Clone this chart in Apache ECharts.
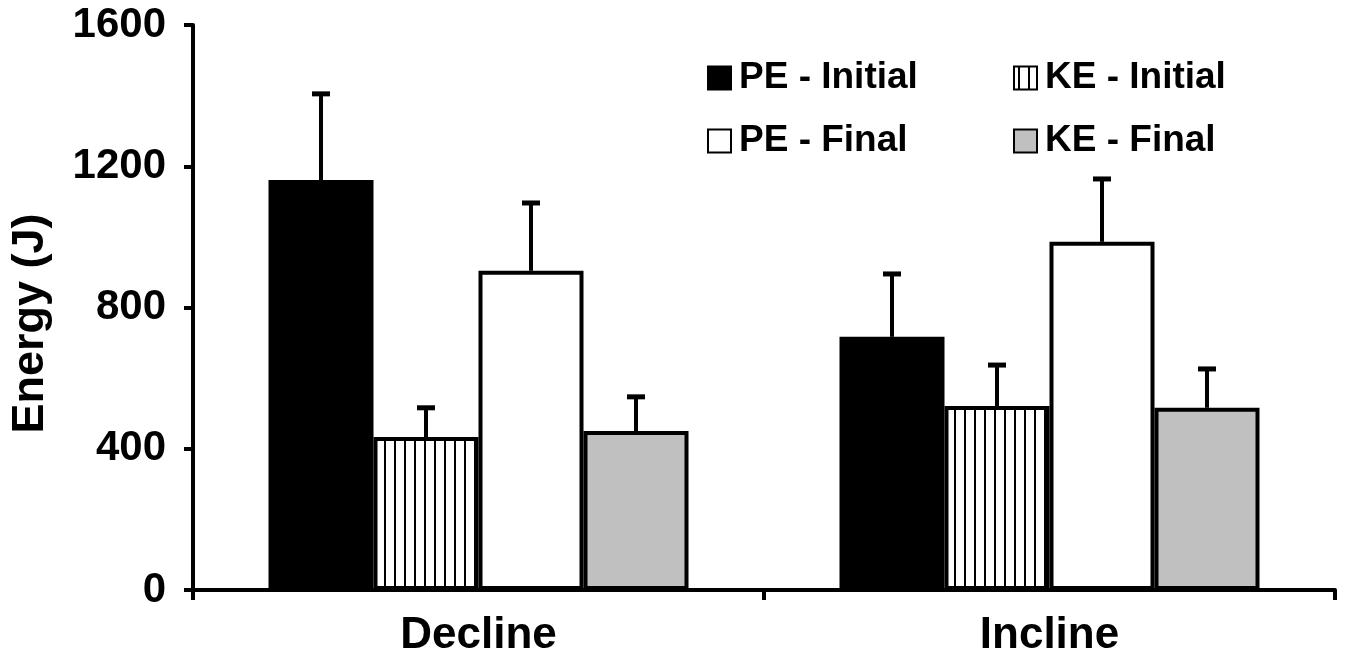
<!DOCTYPE html>
<html>
<head>
<meta charset="utf-8">
<script src="https://cdn.jsdelivr.net/npm/echarts@6/dist/echarts.min.js"></script>
<style>
html,body{margin:0;padding:0;background:#fff;}
#chart{width:1347px;height:663px;}
</style>
</head>
<body>
<div id="chart"></div>
<script>
// ---- data ----
const categories = ['Decline', 'Incline'];
const seriesNames = ['PE - Initial', 'KE - Initial', 'PE - Final', 'KE - Final'];
const peInitial = [1161, 717];
const keInitial = [433, 521];
const peFinal = [904, 986];
const keFinal = [450, 516];
const peInitialSD = [244, 178];
const keInitialSD = [83, 116];
const peFinalSD = [192, 178];
const keFinalSD = [97, 110];
const yTicks = [0, 400, 800, 1200, 1600];

// ---- styling helpers ----
const FONT = 'Liberation Sans, Arial, sans-serif';
const BAR_W = 105;

const hatch = document.createElement('canvas');
hatch.width = 10; hatch.height = 10;
(function () {
  const c = hatch.getContext('2d');
  c.fillStyle = '#fff'; c.fillRect(0, 0, 10, 10);
  c.fillStyle = '#000'; c.fillRect(4, 0, 2, 10);
})();

const values = [peInitial, keInitial, peFinal, keFinal];
const sds = [peInitialSD, keInitialSD, peFinalSD, keFinalSD];
const fills = ['#000000', { image: hatch, repeat: 'repeat' }, '#ffffff', '#c0c0c0'];

const barSeries = seriesNames.map((name, k) => ({
  name: name,
  type: 'bar',
  barWidth: BAR_W,
  barGap: '0%',
  data: values[k],
  itemStyle: { color: fills[k], borderColor: '#000', borderWidth: 4 },
  emphasis: { disabled: true }
}));

const errData = [];
values.forEach((arr, k) => arr.forEach((v, i) => errData.push([i, v, sds[k][i], k])));

const errSeries = {
  name: 'err',
  type: 'custom',
  data: errData,
  z: 5,
  renderItem: function (params, api) {
    const cat = api.value(0), v = api.value(1), sd = api.value(2), k = api.value(3);
    const base = api.coord([cat, v]);
    const top = api.coord([cat, v + sd]);
    const x = base[0] + (k - 1.5) * BAR_W;
    return {
      type: 'group',
      children: [
        { type: 'line', shape: { x1: x, y1: base[1], x2: x, y2: top[1] + 2 }, style: { stroke: '#000', lineWidth: 4 } },
        { type: 'line', shape: { x1: x - 9, y1: top[1], x2: x + 9, y2: top[1] }, style: { stroke: '#000', lineWidth: 5 } }
      ]
    };
  }
};

const legendBase = {
  orient: 'vertical',
  top: 53,
  itemWidth: 23,
  itemHeight: 23,
  itemGap: 23,
  icon: 'rect',
  selectedMode: false,
  itemStyle: { borderWidth: 2, borderColor: '#000' },
  textStyle: { fontFamily: FONT, fontWeight: 'bold', fontSize: 37, color: '#000', lineHeight: 40, padding: [0, 0, 0, 3] }
};

const option = {
  animation: false,
  backgroundColor: '#fff',
  grid: { left: 190, right: 12, top: 25, bottom: 73, containLabel: false },
  legend: [
    Object.assign({}, legendBase, { left: 702, data: [seriesNames[0], seriesNames[2]] }),
    Object.assign({}, legendBase, { left: 1008, data: [seriesNames[1], seriesNames[3]] })
  ],
  xAxis: {
    type: 'category',
    data: categories,
    boundaryGap: true,
    axisLine: { lineStyle: { color: '#000', width: 4 } },
    axisTick: { show: true, inside: false, length: 10, lineStyle: { color: '#000', width: 4 } },
    axisLabel: { fontFamily: FONT, fontWeight: 'bold', fontSize: 44, color: '#000', margin: 24 },
    splitLine: { show: false }
  },
  yAxis: {
    type: 'value',
    min: yTicks[0],
    max: yTicks[yTicks.length - 1],
    interval: yTicks[1] - yTicks[0],
    name: 'Energy (J)',
    nameLocation: 'middle',
    nameGap: 140,
    nameTextStyle: { fontFamily: FONT, fontWeight: 'bold', fontSize: 45, color: '#000', padding: [0, 32, 0, 0] },
    axisLine: { show: true, lineStyle: { color: '#000', width: 4 } },
    axisTick: { show: true, inside: false, length: 9, lineStyle: { color: '#000', width: 4 } },
    axisLabel: { fontFamily: FONT, fontWeight: 'bold', fontSize: 42, color: '#000', margin: 27, formatter: function (v) { return String(v); } },
    splitLine: { show: false }
  },
  series: barSeries.concat([errSeries])
};

const chart = echarts.init(document.getElementById('chart'), null, { renderer: 'canvas' });
chart.setOption(option);
</script>
</body>
</html>
